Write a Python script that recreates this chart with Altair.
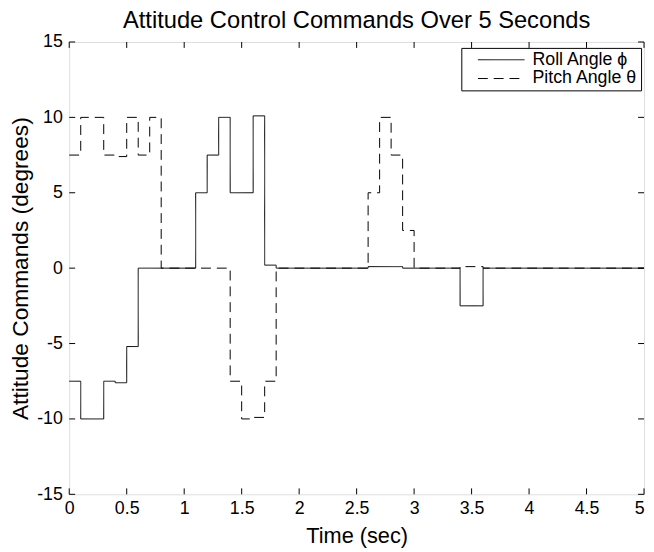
import altair as alt
import pandas as pd

# Roll angle command (step changes): time of change and value held after it
roll_t = [0, 0.1, 0.3, 0.4, 0.5, 0.6, 1.1, 1.2, 1.3, 1.4, 1.6, 1.7, 1.8, 2.6, 2.9, 3.4, 3.6, 5.0]
roll_v = [-7.5, -10, -7.5, -7.6, -5.2, 0, 5, 7.5, 10, 5, 10.1, 0.2, 0, 0.1, 0, -2.5, 0, 0]

# Pitch angle command
pitch_t = [0, 0.1, 0.3, 0.4, 0.5, 0.6, 0.7, 0.8, 1.4, 1.5, 1.6, 1.7, 1.8, 2.6, 2.7, 2.8, 2.9, 3.0, 3.4, 3.6, 5.0]
pitch_v = [7.5, 10, 7.5, 7.4, 10, 7.5, 10, 0, -7.5, -10, -9.9, -7.5, 0, 5, 10, 7.5, 2.5, 0, 0.1, 0, 0]

series_names = ["Roll Angle \u03d5", "Pitch Angle \u03b8"]
x_ticks = [0, 0.5, 1, 1.5, 2, 2.5, 3, 3.5, 4, 4.5, 5]
y_ticks = [-15, -10, -5, 0, 5, 10, 15]
title_text = ["Attitude Control Commands Over 5 Seconds"]

FONT = "Liberation Sans"
W, H = 582, 458

df = pd.concat([
    pd.DataFrame({"t": roll_t, "v": roll_v, "series": series_names[0], "order": range(len(roll_t))}),
    pd.DataFrame({"t": pitch_t, "v": pitch_v, "series": series_names[1], "order": range(len(pitch_t))}),
])
xt = pd.DataFrame({"t": x_ticks})
yt = pd.DataFrame({"v": y_ticks})
tdf = pd.DataFrame({"title": title_text})

xscale = alt.Scale(domain=[0, 5], nice=False, zero=False)
yscale = alt.Scale(domain=[-15, 15], nice=False, zero=False)

xaxis = alt.Axis(values=x_ticks, ticks=False, domain=False, grid=False, labelFont=FONT,
                 labelFontSize=18, labelColor="black", labelPadding=5,
                 labelExpr="'' + datum.value",
                 labelAlign={"condition": {"test": "datum.value == 5", "value": "right"}, "value": "center"},
                 title="Time (sec)",
                 titleFont=FONT, titleFontSize=22, titleFontWeight="normal", titleColor="black",
                 titlePadding=9, labelFlush=False, labelOverlap=False)
yaxis = alt.Axis(values=y_ticks, ticks=False, domain=False, grid=False, labelFont=FONT,
                 labelFontSize=18, labelColor="black", labelPadding=7,
                 labelExpr="'' + datum.value",
                 title="Attitude Commands (degrees)", titleFont=FONT, titleFontSize=23,
                 titleFontWeight="normal", titleColor="black", titlePadding=4,
                 labelFlush=False, labelOverlap=False)

lines = alt.Chart(df).mark_line(interpolate="step-after", color="black", strokeWidth=1).encode(
    x=alt.X("t:Q", scale=xscale, axis=xaxis),
    y=alt.Y("v:Q", scale=yscale, axis=yaxis),
    detail="series:N",
    order="order:Q",
    strokeDash=alt.StrokeDash(
        "series:N",
        scale=alt.Scale(domain=series_names, range=[[1, 0], [10, 6]]),
        legend=alt.Legend(
            title=None, orient="none", legendX=397, legendY=6,
            symbolType="M0.6,0H6.5", symbolSize=256, symbolStrokeWidth=1,
            symbolStrokeColor="black", labelFont=FONT, labelFontSize=18,
            labelColor="black", labelOffset=51, rowPadding=1,
            padding=3, strokeColor="black", fillColor="white",
            labelLimit=300,
        ),
    ),
)

tick_len = 6
bottom = alt.Chart(xt).mark_rule(color="black", strokeWidth=1).encode(
    x=alt.X("t:Q", scale=xscale, axis=xaxis), y=alt.value(H), y2=alt.value(H - tick_len))
top = alt.Chart(xt).mark_rule(color="black", strokeWidth=1).encode(
    x=alt.X("t:Q", scale=xscale, axis=xaxis), y=alt.value(0), y2=alt.value(tick_len))
left = alt.Chart(yt).mark_rule(color="black", strokeWidth=1).encode(
    y=alt.Y("v:Q", scale=yscale, axis=yaxis), x=alt.value(0), x2=alt.value(tick_len))
right = alt.Chart(yt).mark_rule(color="black", strokeWidth=1).encode(
    y=alt.Y("v:Q", scale=yscale, axis=yaxis), x=alt.value(W), x2=alt.value(W - tick_len))

title = alt.Chart(tdf).mark_text(font=FONT, fontSize=24, color="black", align="center",
                                 baseline="alphabetic").encode(
    text="title:N", x=alt.value(W / 2), y=alt.value(-14))

chart = alt.layer(bottom, top, left, right, lines, title).properties(
    width=W, height=H,
    autosize=alt.AutoSizeParams(type="none"),
    padding={"left": 62, "top": 31, "right": 2, "bottom": 55},
).configure_view(stroke="black", strokeWidth=1).configure(background="white")

chart.save("out.html", embed_options={"renderer": "svg", "actions": False})
